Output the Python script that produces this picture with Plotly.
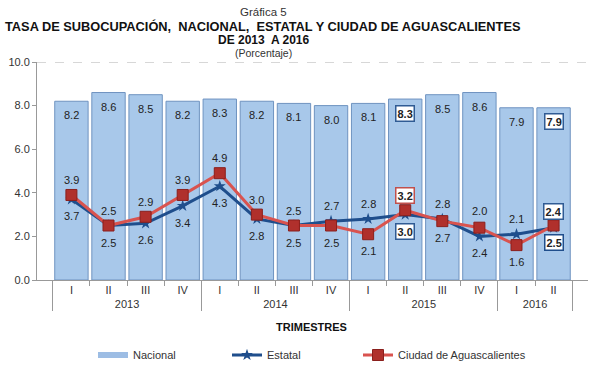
import plotly.graph_objects as go

years = ["2013"]*4 + ["2014"]*4 + ["2015"]*4 + ["2016"]*2
quarters = ["I", "II", "III", "IV", "I", "II", "III", "IV", "I", "II", "III", "IV", "I", "II"]
nacional = [8.2, 8.6, 8.5, 8.2, 8.3, 8.2, 8.1, 8.0, 8.1, 8.3, 8.5, 8.6, 7.9, 7.9]
estatal = [3.7, 2.5, 2.6, 3.4, 4.3, 2.8, 2.5, 2.7, 2.8, 3.0, 2.8, 2.0, 2.1, 2.4]
ciudad = [3.9, 2.5, 2.9, 3.9, 4.9, 3.0, 2.5, 2.5, 2.1, 3.2, 2.7, 2.4, 1.6, 2.5]
y_ticks = [0, 2, 4, 6, 8, 10]

# styling: label offsets (px) and boxed labels
est_shift = [-17]*7 + [15, 15, -17, 15, 25, 15, 16]
ciu_shift = [15]*7 + [-17, -17, 15, -17, -25, -17, -17]
nac_box = {9, 13}
est_box = {9, 13}
ciu_box = {9: "#c0504d", 13: "#1f4e8c"}

FONT = "Liberation Sans, Arial, sans-serif"
BAR = "#a8c8ea"
x = [years, quarters]

fig = go.Figure()
fig.add_trace(go.Bar(
    x=x, y=nacional, name="Nacional", showlegend=False,
    marker=dict(color=BAR, line=dict(color="#6f93c0", width=1)),
))
# legend entry for Nacional (wide rectangle swatch like the reference)
fig.add_trace(go.Scatter(
    x=[None], y=[None], name="Nacional", mode="lines", legend="legend",
    line=dict(color="#9dbde4", width=6), hoverinfo="skip",
))
fig.add_trace(go.Scatter(
    x=x, y=estatal, name="Estatal", mode="lines+markers", legend="legend2",
    line=dict(color="#1f4e8c", width=3),
    marker=dict(symbol="star", size=9, color="#1f4e8c"),
))
fig.add_trace(go.Scatter(
    x=x, y=ciudad, name="Ciudad de Aguascalientes", mode="lines+markers", legend="legend3",
    line=dict(color="#d9534f", width=3),
    marker=dict(symbol="square", size=11, color="#b0302c",
                line=dict(color="#8a1f1c", width=1)),
))

def lab(i, v, shift, boxed, border):
    return dict(x=i, y=v, xref="x", yref="y", text=f"<b>{v:.1f}</b>" if boxed else f"{v:.1f}",
                showarrow=False, yshift=shift, font=dict(size=11, color="#222", family=FONT),
                bgcolor="white" if boxed else None, bordercolor=border if boxed else None,
                borderwidth=1.5 if boxed else 0, borderpad=1)

ann = []
for i, v in enumerate(nacional):
    ann.append(lab(i, v, -14, i in nac_box, "#2f5b94"))
for i, v in enumerate(estatal):
    ann.append(lab(i, v, est_shift[i], i in est_box, "#2f5b94"))
for i, v in enumerate(ciudad):
    ann.append(lab(i, v, ciu_shift[i], i in ciu_box, ciu_box.get(i)))

H = 218.0
W = 551.0
def py(px):
    return (280 - px) / H
def pxx(px):
    return (px - 37) / W
cx = pxx(263)
ann += [
    dict(x=cx, y=py(12), xref="paper", yref="paper", yanchor="middle", text="Gráfica 5", showarrow=False,
         font=dict(size=11.5, color="#333", family=FONT), borderpad=0),
    dict(x=cx, y=py(26), xref="paper", yref="paper", yanchor="middle",
         text="<b>TASA DE SUBOCUPACIÓN,  NACIONAL,  ESTATAL Y CIUDAD DE AGUASCALIENTES</b>",
         showarrow=False, font=dict(size=12.8, color="#111", family=FONT), borderpad=0),
    dict(x=cx, y=py(39.5), xref="paper", yref="paper", yanchor="middle", text="<b>DE 2013  A 2016</b>",
         showarrow=False, font=dict(size=12, color="#111", family=FONT), borderpad=0),
    dict(x=cx, y=py(53), xref="paper", yref="paper", yanchor="middle", text="(Porcentaje)", showarrow=False,
         font=dict(size=10.5, color="#333", family=FONT), borderpad=0),
    dict(x=pxx(311), y=py(327), xref="paper", yref="paper", yanchor="middle", text="<b>TRIMESTRES</b>",
         showarrow=False, font=dict(size=11, color="#111", family=FONT)),
]

leg_common = dict(orientation="h", xanchor="left", y=py(355), yanchor="middle",
                  font=dict(size=11, color="#333", family=FONT), itemwidth=30,
                  bgcolor="rgba(0,0,0,0)")
fig.update_layout(
    width=592, height=373,
    margin=dict(l=37, r=4, t=62, b=93, autoexpand=False),
    paper_bgcolor="white", plot_bgcolor="white",
    bargap=0.1,
    showlegend=True,
    legend=dict(x=pxx(93), **leg_common),
    legend2=dict(x=pxx(227), **leg_common),
    legend3=dict(x=pxx(358), **leg_common),
    annotations=ann,
    font=dict(family=FONT),
    shapes=[dict(type="line", xref="paper", yref="y", x0=0, x1=1, y0=10, y1=10,
                 line=dict(color="#b0b0b0", width=1, dash="dash"), layer="below")],
)
fig.update_xaxes(type="multicategory", showline=True, linecolor="#999", ticks="outside",
                 tickcolor="#999", showdividers=True, dividercolor="#999", dividerwidth=1,
                 tickfont=dict(size=11, color="#333"), showgrid=False)
fig.update_yaxes(range=[0, 10], tickvals=y_ticks, tickformat=".1f", showline=True, linecolor="#999",
                 ticks="outside", tickcolor="#999", ticklen=4, showgrid=False, zeroline=False,
                 tickfont=dict(size=11, color="#333"))

fig.write_html("out.html", config={"displayModeBar": False},
               post_script="document.body.style.margin='0';")
